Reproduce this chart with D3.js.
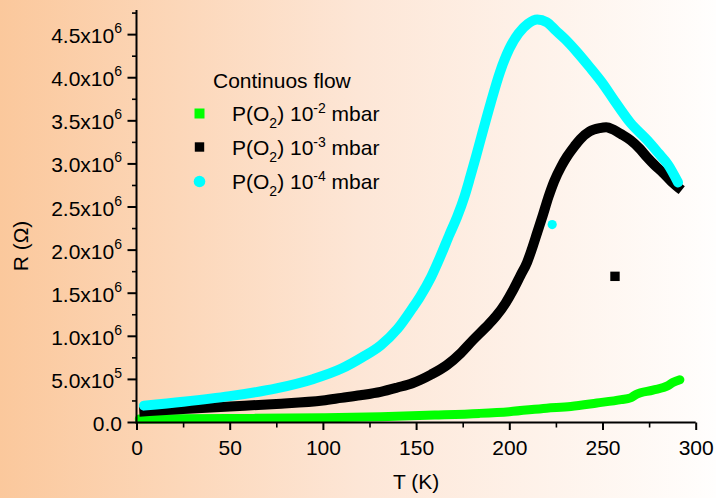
<!DOCTYPE html>
<html><head><meta charset="utf-8">
<script src="https://cdn.jsdelivr.net/npm/d3@7"></script>
<style>html,body{margin:0;padding:0;background:#fff;}svg{display:block;font-family:"Liberation Sans",Arial,sans-serif;}</style>
</head><body>
<script>
// ---- data (T in K, R in units of 1e6 Ohm) ----
const cyanT = [4, 25, 50, 75, 95, 110, 121, 131, 140, 148, 152, 158, 163, 168, 172, 176, 179, 182, 185, 190, 195, 200, 205, 210, 215, 220, 225, 230, 236, 243, 250, 256, 265, 274, 280, 285, 290.5];
const cyanR = [0.19, 0.235, 0.30, 0.39, 0.50, 0.62, 0.75, 0.89, 1.08, 1.32, 1.45, 1.68, 1.92, 2.18, 2.38, 2.62, 2.84, 3.07, 3.31, 3.70, 4.06, 4.33, 4.51, 4.62, 4.67, 4.64, 4.54, 4.44, 4.30, 4.12, 3.93, 3.74, 3.47, 3.27, 3.12, 2.99, 2.78];
const blackT = [1.5, 25, 50, 75, 100, 110, 120, 131, 140, 148, 158, 166.5, 174, 180.5, 187, 193, 198, 202, 206, 209.5, 212, 215, 218, 221, 224, 228, 231, 235, 238, 243, 248.5, 252, 256, 260, 265, 270, 274, 278, 282.5, 287, 292.5];
const blackR = [0.12, 0.15, 0.18, 0.21, 0.25, 0.28, 0.31, 0.35, 0.40, 0.45, 0.55, 0.66, 0.80, 0.95, 1.09, 1.23, 1.38, 1.53, 1.70, 1.85, 2.0, 2.2, 2.40, 2.61, 2.79, 2.97, 3.08, 3.20, 3.28, 3.37, 3.41, 3.42, 3.39, 3.34, 3.27, 3.17, 3.07, 2.98, 2.89, 2.79, 2.69];
const greenT = [1.5, 50, 100, 131, 160, 184, 200, 220, 233, 247, 260, 265, 268, 277, 285, 288, 291.5];
const greenR = [0.035, 0.04, 0.05, 0.06, 0.08, 0.10, 0.12, 0.16, 0.18, 0.22, 0.26, 0.28, 0.32, 0.37, 0.42, 0.46, 0.49];
const outlierCyan = [[223, 2.29]];
const outlierBlack = [[256.7, 1.69]];

const xTicks = [0, 50, 100, 150, 200, 250, 300];
const xMinor = [25, 75, 125, 175, 225, 275];
const yTicks = [0, 0.5, 1.0, 1.5, 2.0, 2.5, 3.0, 3.5, 4.0, 4.5];
const yMinor = [0.25, 0.75, 1.25, 1.75, 2.25, 2.75, 3.25, 3.75, 4.25, 4.75];
const yMant = ["0.0", "5.0", "1.0", "1.5", "2.0", "2.5", "3.0", "3.5", "4.0", "4.5"];
const yExp = ["", "5", "6", "6", "6", "6", "6", "6", "6", "6"];

const legendTitle = "Continuos flow";
const legendExp = ["-2", "-3", "-4"];
const colors = ["#00ff00", "#000000", "#00ffff"];
const xLabel = "T (K)";
const yLabel = "R (Ω)";

// ---- chart ----
const W = 716, H = 498;
const svg = d3.select("body").append("svg").attr("width", W).attr("height", H);
const defs = svg.append("defs");
const grad = defs.append("linearGradient").attr("id", "bg").attr("x1", "0").attr("x2", "1").attr("y1", "0").attr("y2", "0");
grad.append("stop").attr("offset", "0%").attr("stop-color", "#fbc89c");
grad.append("stop").attr("offset", "50%").attr("stop-color", "#fde6d6");
grad.append("stop").attr("offset", "100%").attr("stop-color", "#fffefd");
svg.append("rect").attr("width", W).attr("height", H).attr("fill", "url(#bg)");

const x = d3.scaleLinear().domain([0, 300]).range([136.5, 695.7]);
const y = d3.scaleLinear().domain([0, 4.78]).range([422, 10]);

const line = d3.line().x(d => x(d[0])).y(d => y(d[1])).curve(d3.curveMonotoneX);
const zip = (a, b) => a.map((v, i) => [v, b[i]]);

const plot = svg.append("g");
plot.append("path").datum(zip(greenT, greenR)).attr("d", line)
  .attr("fill", "none").attr("stroke", colors[0]).attr("stroke-width", 9)
  .attr("stroke-linecap", "round").attr("stroke-linejoin", "round");
plot.append("path").datum(zip(blackT, blackR)).attr("d", line)
  .attr("fill", "none").attr("stroke", colors[1]).attr("stroke-width", 10)
  .attr("stroke-linecap", "butt").attr("stroke-linejoin", "round");
plot.append("path").datum(zip(cyanT, cyanR)).attr("d", line)
  .attr("fill", "none").attr("stroke", colors[2]).attr("stroke-width", 10)
  .attr("stroke-linecap", "round").attr("stroke-linejoin", "round");

plot.selectAll(".oc").data(outlierCyan).join("circle")
  .attr("cx", d => x(d[0])).attr("cy", d => y(d[1])).attr("r", 4.6).attr("fill", colors[2]);
plot.selectAll(".ob").data(outlierBlack).join("rect")
  .attr("x", d => x(d[0]) - 4.7).attr("y", d => y(d[1]) - 4.7).attr("width", 9.4).attr("height", 9.4).attr("fill", colors[1]);

// axes
const xAxis = svg.append("g").attr("transform", `translate(0,${y(0) + 0.5})`)
  .call(d3.axisBottom(x).tickValues(xTicks).tickSize(7.5).tickSizeOuter(0).tickFormat(d3.format("d")));
xAxis.select(".domain").attr("stroke-width", 2).attr("d", `M${x(0) - 1},0H${x(300)}`);
xAxis.selectAll(".tick line").attr("stroke-width", 2);
xAxis.selectAll("text").attr("font-size", 21).attr("font-family", "Liberation Sans, Arial, sans-serif").attr("fill", "#000").attr("dy", "0").attr("y", 32);
svg.append("g").attr("transform", `translate(0,${y(0) + 0.5})`)
  .call(d3.axisBottom(x).tickValues(xMinor).tickSize(5).tickFormat(""))
  .call(g => g.select(".domain").remove())
  .selectAll(".tick line").attr("stroke-width", 1.6);

const yAxis = svg.append("g").attr("transform", `translate(${x(0)},0)`)
  .call(d3.axisLeft(y).tickValues(yTicks).tickSize(9).tickSizeOuter(0).tickFormat(""));
yAxis.select(".domain").attr("stroke-width", 2).attr("d", `M0,${y(0) + 1.5}V${y(4.78)}`);
yAxis.selectAll(".tick line").attr("stroke-width", 2);
svg.append("g").attr("transform", `translate(${x(0)},0)`)
  .call(d3.axisLeft(y).tickValues(yMinor).tickSize(4.5).tickFormat(""))
  .call(g => g.select(".domain").remove())
  .selectAll(".tick line").attr("stroke-width", 1.6);

// y tick labels with superscripts
const yl = svg.append("g").attr("font-size", 21).attr("fill", "#000");
yTicks.forEach((v, i) => {
  const t = yl.append("text").attr("text-anchor", "end").attr("x", 122).attr("y", y(v) + 9);
  if (yExp[i] === "") {
    t.text(yMant[i]);
  } else {
    t.append("tspan").text(yMant[i] + "x10");
    t.append("tspan").attr("font-size", 14).attr("dy", -10).text(yExp[i]);
  }
});

// axis titles
svg.append("text").attr("x", (x(0) + x(300)) / 2).attr("y", 489).attr("text-anchor", "middle")
  .attr("font-size", 21).attr("fill", "#000").text(xLabel);
svg.append("text").attr("transform", `translate(28,246) rotate(-90)`).attr("text-anchor", "middle")
  .attr("font-size", 21).attr("fill", "#000").text(yLabel);

// legend
const lg = svg.append("g").attr("font-size", 21).attr("fill", "#000");
lg.append("text").attr("x", 213).attr("y", 88).text(legendTitle);
const rowY = [113.5, 147, 181.5];
lg.append("rect").attr("x", 194.5).attr("y", rowY[0] - 5).attr("width", 10).attr("height", 10).attr("fill", colors[0]);
lg.append("rect").attr("x", 194.8).attr("y", rowY[1] - 4.7).attr("width", 9.4).attr("height", 9.4).attr("fill", colors[1]);
lg.append("circle").attr("cx", 199.5).attr("cy", rowY[2]).attr("r", 5.8).attr("fill", colors[2]);
legendExp.forEach((e, i) => {
  const t = lg.append("text").attr("x", 232).attr("y", rowY[i] + 7.5);
  t.append("tspan").text("P(O");
  t.append("tspan").attr("font-size", 14).attr("dy", 7).text("2");
  t.append("tspan").attr("dy", -7).text(") 10");
  t.append("tspan").attr("font-size", 14).attr("dy", -8).text(e);
  t.append("tspan").attr("dy", 8).text(" mbar");
});
</script>
</body></html>
